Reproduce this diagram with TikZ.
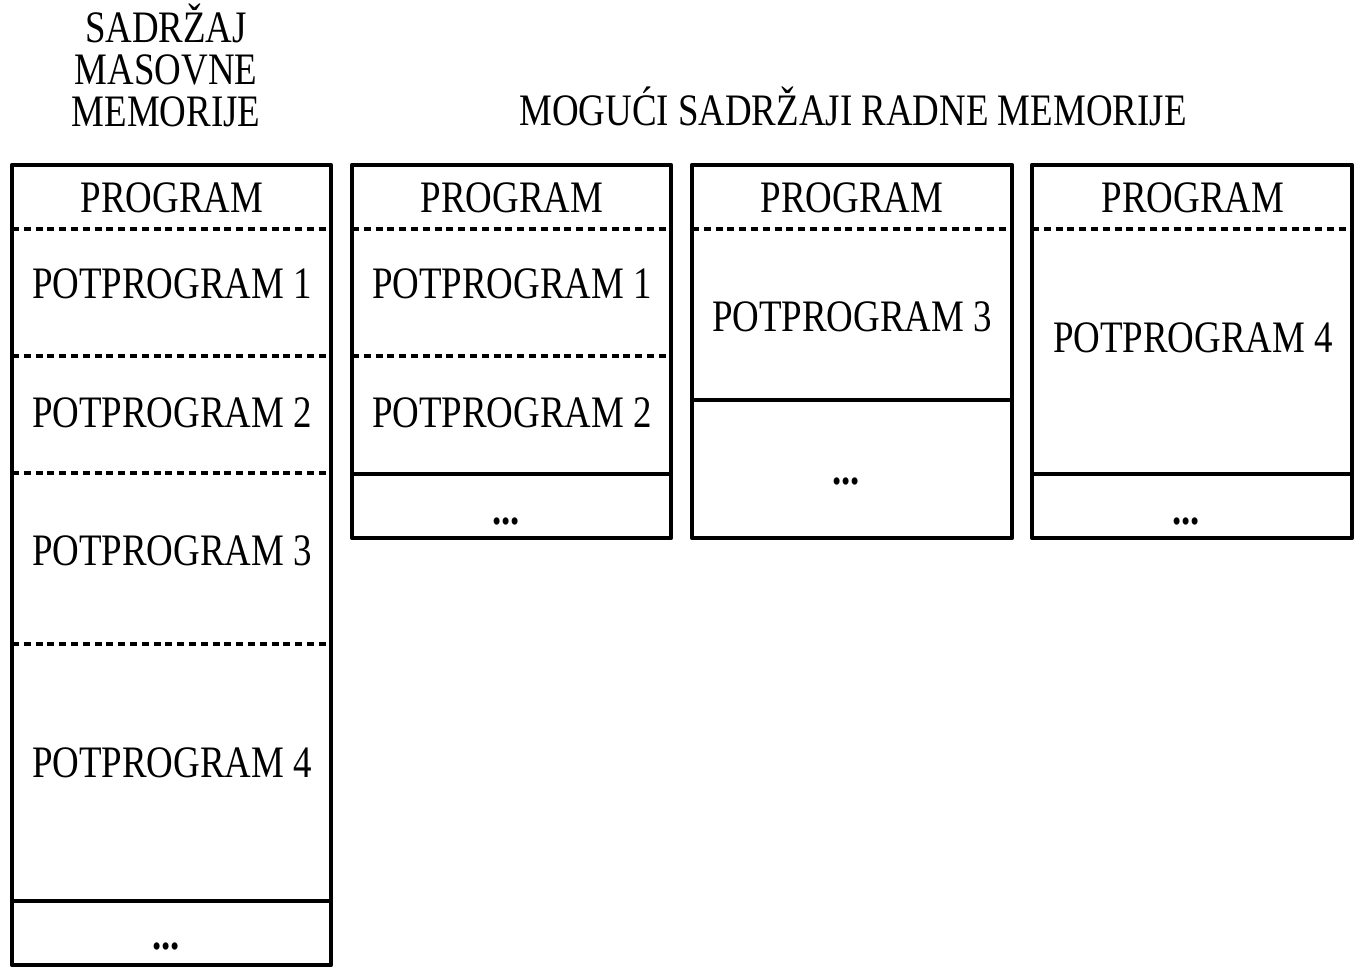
\documentclass[tikz,border=0pt]{standalone}
\usepackage{fontspec}
\setmainfont{Liberation Serif}[FakeStretch=0.82]
\begin{document}
\begin{tikzpicture}[x=1pt,y=-1pt,line join=round,font=\fontsize{45}{42}\selectfont]
	\tikzstyle{okvir}=[line width=4.6pt,draw=black];
	\tikzstyle{granica}=[line width=4.6pt,dash pattern=on 7pt off 4.8pt];
	\tikzstyle{natpis}=[inner sep=0pt,align=center];
	\useasboundingbox (0,0) rectangle (1361,974);

	% masovna memorija
	\node[natpis] (masovna) at (166,65) {SADRŽAJ\\MASOVNE\\MEMORIJE};
	\draw[okvir] (12,165) rectangle (331,965);
	\draw[granica] (12,229) -- (331,229);
	\draw[granica] (12,356) -- (331,356);
	\draw[granica] (12,473) -- (331,473);
	\draw[granica] (12,644) -- (331,644);
	\draw[okvir] (12,901) -- (331,901);
	\node[natpis] (m0) at (172,198) {PROGRAM};
	\node[natpis] (m1) at (172,284) {POTPROGRAM 1};
	\node[natpis] (m2) at (172,413) {POTPROGRAM 2};
	\node[natpis] (m3) at (172,551) {POTPROGRAM 3};
	\node[natpis] (m4) at (172,763) {POTPROGRAM 4};
	\node[natpis] (mt) at (166,946) {\textbf{...}};

	% radna memorija
	\node[natpis] (radna) at (853,106) {MOGUĆI SADRŽAJI RADNE MEMORIJE};

	\draw[okvir] (352,165) rectangle (671,538);
	\draw[granica] (352,229) -- (671,229);
	\draw[granica] (352,356) -- (671,356);
	\draw[okvir] (352,474) -- (671,474);
	\node[natpis] (a0) at (512,198) {PROGRAM};
	\node[natpis] (a1) at (512,284) {POTPROGRAM 1};
	\node[natpis] (a2) at (512,413) {POTPROGRAM 2};
	\node[natpis] (at) at (506,521) {\textbf{...}};

	\draw[okvir] (692,165) rectangle (1012,538);
	\draw[granica] (692,229) -- (1012,229);
	\draw[okvir] (692,400) -- (1012,400);
	\node[natpis] (b0) at (852,198) {PROGRAM};
	\node[natpis] (b3) at (852,317) {POTPROGRAM 3};
	\node[natpis] (bt) at (846,481) {\textbf{...}};

	\draw[okvir] (1032,165) rectangle (1352,538);
	\draw[granica] (1032,229) -- (1352,229);
	\draw[okvir] (1032,474) -- (1352,474);
	\node[natpis] (c0) at (1193,198) {PROGRAM};
	\node[natpis] (c4) at (1193,338) {POTPROGRAM 4};
	\node[natpis] (ct) at (1186,521) {\textbf{...}};
\end{tikzpicture}
\end{document}
